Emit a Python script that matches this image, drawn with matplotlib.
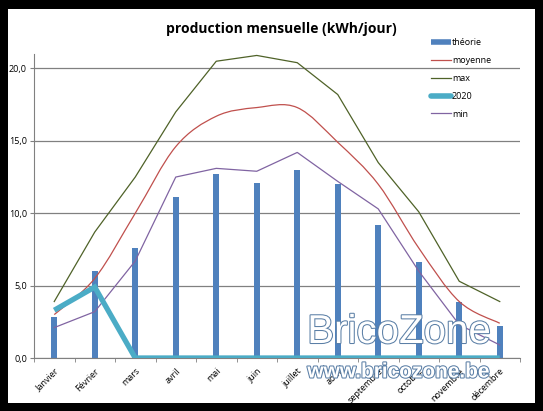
import matplotlib.pyplot as plt
import matplotlib.patheffects as pe
from matplotlib.path import Path
from matplotlib.patches import PathPatch, Rectangle
from matplotlib.lines import Line2D
import numpy as np

plt.rcParams['font.family'] = ['Open Sans', 'DejaVu Sans']

mois = ['Janvier', 'Février', 'mars', 'avril', 'mai', 'juin', 'juillet',
        'août', 'septembre', 'octobre', 'novembre', 'décembre']
theorie = [2.83, 6.0, 7.6, 11.1, 12.7, 12.1, 13.0, 12.0, 9.2, 6.6, 3.9, 2.2]
moyenne = [3.0, 5.5, 10.0, 14.6, 16.7, 17.3, 17.3, 14.9, 12.0, 7.6, 3.9, 2.4]
maxi = [3.9, 8.7, 12.5, 17.0, 20.5, 20.9, 20.4, 18.2, 13.5, 10.1, 5.3, 3.9]
prod_2020 = [3.3, 4.9, 0, 0, 0, 0, 0, 0, 0, 0, 0, 0]
mini = [2.1, 3.2, 6.7, 12.5, 13.1, 12.9, 14.2, 12.2, 10.3, 6.0, 2.3, 0.9]

c_bar = '#4F81BD'
c_moy = '#C0504D'
c_max = '#4F6228'
c_2020 = '#4BACC6'
c_min = '#8064A2'


def smooth_path(x, y):
    # courbe lissée façon Excel (Catmull-Rom -> Bézier)
    pts = list(zip(x, y))
    verts = [pts[0]]
    codes = [Path.MOVETO]
    for i in range(len(pts) - 1):
        p0 = pts[i - 1] if i > 0 else pts[i]
        p1 = pts[i]
        p2 = pts[i + 1]
        p3 = pts[i + 2] if i + 2 < len(pts) else pts[i + 1]
        c1 = (p1[0] + (p2[0] - p0[0]) / 6, p1[1] + (p2[1] - p0[1]) / 6)
        c2 = (p2[0] - (p3[0] - p1[0]) / 6, p2[1] - (p3[1] - p1[1]) / 6)
        verts += [c1, c2, p2]
        codes += [Path.CURVE4] * 3
    return Path(verts, codes)


fig = plt.figure(figsize=(5.43, 4.11), dpi=100, facecolor='black')
fig.patches.append(Rectangle((8 / 543, 1 - 403 / 411), 527 / 543, 394 / 411,
                             transform=fig.transFigure, facecolor='white',
                             edgecolor='none', zorder=-5))

ax = fig.add_axes([34 / 543, 1 - 358 / 411, 486 / 543, 304 / 411])
ax.set_zorder(2)
ax.set_facecolor('none')
x = np.arange(len(mois))

ax.bar(x, theorie, width=0.15, color=c_bar, zorder=2)
ax.add_patch(PathPatch(smooth_path(x, moyenne), facecolor='none',
                       edgecolor=c_moy, lw=0.9, zorder=3))
ax.plot(x, maxi, color=c_max, lw=0.9, zorder=3)
ax.plot(x, prod_2020, color=c_2020, lw=3.8, solid_capstyle='butt',
        solid_joinstyle='miter', zorder=4)
ax.plot(x, mini, color=c_min, lw=0.9, zorder=3)

ax.set_xlim(-0.5, 11.5)
ax.set_ylim(0, 21)
ax.set_yticks([0, 5, 10, 15, 20])
ax.set_yticklabels(['0,0', '5,0', '10,0', '15,0', '20,0'], fontsize=6.5)
ax.yaxis.grid(True, color='#808080', lw=0.9)
ax.set_axisbelow(True)

ax.set_xticks(x)
ax.set_xticklabels(mois, rotation=45, ha='right', rotation_mode='anchor',
                   fontsize=6.5)
ax.tick_params(axis='x', length=0, pad=6)
ax.set_xticks(np.arange(-0.5, 12, 1), minor=True)
ax.tick_params(axis='x', which='minor', length=3, color='#808080')
ax.tick_params(axis='y', length=3, color='#808080', pad=2)
for s in ['top', 'right']:
    ax.spines[s].set_visible(False)
for s in ['left', 'bottom']:
    ax.spines[s].set_color('#808080')

fig.text(281 / 543, 1 - 29 / 411, 'production mensuelle (kWh/jour)',
         ha='center', va='center', fontsize=10, fontweight='bold')

handles = [
    Line2D([], [], color=c_bar, lw=4, solid_capstyle='butt'),
    Line2D([], [], color=c_moy, lw=0.9),
    Line2D([], [], color=c_max, lw=0.9),
    Line2D([], [], color=c_2020, lw=4, solid_capstyle='round'),
    Line2D([], [], color=c_min, lw=0.9),
]
leg = fig.legend(handles, ['théorie', 'moyenne', 'max', '2020', 'min'],
                 loc='upper left', bbox_to_anchor=(423 / 543, 1 - 30 / 411),
                 frameon=False, fontsize=6.5, handlelength=2.2,
                 handletextpad=0.1, labelspacing=0.98)
leg.set_zorder(5)

# filigrane
outline = [pe.withStroke(linewidth=1.5, foreground='#5B7FA6')]
fig.text(399 / 543, 1 - 332 / 411, 'BricoZone', ha='center', va='center',
         fontsize=29, color='white', family='Liberation Sans',
         path_effects=outline, zorder=10)
fig.text(399 / 543, 1 - 372 / 411, 'www.bricozone.be', ha='center',
         va='center', fontsize=15, fontweight='bold', color='white',
         family='Liberation Sans', path_effects=outline, zorder=10)

fig.savefig('out.png', dpi=100, facecolor='black')
